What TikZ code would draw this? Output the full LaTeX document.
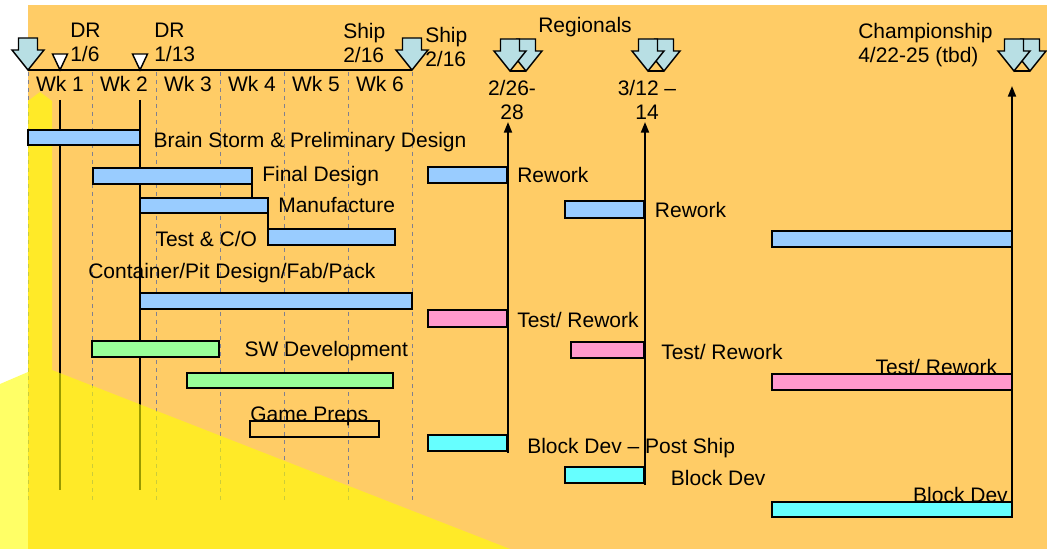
\documentclass[tikz,border=0pt]{standalone}
\usepackage{fontspec}
\setmainfont{Liberation Sans}
\usetikzlibrary{arrows.meta,positioning,fit}
\definecolor{gtOrange}{HTML}{FFCC66}
\definecolor{gtBlue}{HTML}{99CCFF}
\definecolor{gtPink}{HTML}{FF99CC}
\definecolor{gtGreen}{HTML}{99FF99}
\definecolor{gtCyan}{HTML}{66FFFF}
\definecolor{gtArrow}{HTML}{B8DFE4}
\definecolor{gtGrid}{HTML}{808090}
\definecolor{gtYellow}{HTML}{FFFF00}
\tikzset{
  lbl/.style={inner sep=0pt, font=\fontsize{15.75}{18}\selectfont},
  lblM/.style={lbl, align=left},
  lblC/.style={lbl, align=center},
  bar/.style={draw=black, line width=1.2pt, inner sep=0pt, outer sep=0pt},
  barB/.style={bar, fill=gtBlue},
  barP/.style={bar, fill=gtPink},
  barG/.style={bar, fill=gtGreen},
  barC/.style={bar, fill=gtCyan},
  barE/.style={bar},
  wkln/.style={draw=gtGrid, dash pattern=on 3pt off 3pt, line width=0.6pt},
  axln/.style={draw=black, line width=1.1pt},
  drln/.style={draw=black, line width=1.1pt},
  msarr/.style={-{Triangle[length=8pt,width=6pt]}, line width=1.5pt},
  shpA/.style={draw=black, fill=gtArrow, line width=1.1pt, line join=miter},
  drT/.style={draw=black, fill=white, line width=1.1pt},
  shipdn/.pic={\draw[shpA] (-9.5,-32) -- (9.5,-32) -- (9.5,-20) -- (16,-20) -- (0,0) -- (-16,-20) -- (-9.5,-20) -- cycle;},
  drtri/.pic={\draw[drT] (-7.5,-16) -- (7.5,-16) -- (0,0) -- cycle;},
  regdn/.pic={\pic at (16,0) {shipdn}; \pic at (0,0) {shipdn}; \draw[line width=1.1pt] (0,0) -- (16,0);},
}
\begin{document}
\begin{tikzpicture}[x=0.75pt, y=-0.75pt]
  \useasboundingbox (0,0) rectangle (1047,549);
  \fill[gtOrange] (28,5) rectangle (1047,549);
  % week grid and time line
  \foreach \i in {0,...,6} \draw[wkln] ({28+64*\i},72) -- ({28+64*\i},502);
  \coordinate (t0) at (28,70); \coordinate (t6) at (412,70);
  \draw[axln] (t0) -- (t6);
  \foreach \i in {1,...,6} \node[lbl] (wk\i) at ({64*\i-4},84) {Wk \i};
  % design reviews
  \coordinate (dr1t) at (60,100); \coordinate (dr1b) at (60,490);
  \coordinate (dr2t) at (140,100); \coordinate (dr2b) at (140,490);
  \draw[drln] (dr1t) -- (dr1b); \draw[drln] (dr2t) -- (dr2b);
  \fill[gtYellow, opacity=0.6] (0,549) -- (0,384) -- (28,372) -- (28,101) -- (40,92) -- (52,101) -- (52,370) -- (510,549) -- cycle;
  % build season
  \node[barB, fit={(28,130) (140,145)}] (bs) {};
  \node[barB, fit={(93,168) (252,184)}] (fd) {};
  \node[barB, fit={(140,198) (268,213)}] (mf) {};
  \node[barB, fit={(268,229) (395,245)}] (tc) {};
  \node[barB, fit={(140,293) (412,309)}] (cp) {};
  \node[barG, fit={(92,341) (219,357)}] (sw1) {};
  \node[barG, fit={(187,373) (393,388)}] (sw2) {};
  \node[barE, fit={(250,421) (379,437)}] (gp) {};
  \draw[drln] (fd.north east) -- (fd.east |- mf.north);
  \draw[drln] (mf.south east) -- (tc.south west);
  % between events
  \node[barB, fit={(428,167) (507,183)}] (rw1) {};
  \node[barB, fit={(565,201) (644,218)}] (rw2) {};
  \node[barB, fit={(772,231) (1012,247)}] (rw3) {};
  \node[barP, fit={(428,310) (507,327)}] (tr1) {};
  \node[barP, fit={(571,342) (644,358)}] (tr2) {};
  \node[barP, fit={(772,374) (1012,390)}] (tr3) {};
  \node[barC, fit={(428,435) (507,451)}] (bd1) {};
  \node[barC, fit={(565,467) (644,483)}] (bd2) {};
  \node[barC, fit={(772,502) (1012,517)}] (bd3) {};
  % event markers
  \coordinate (r1b) at (508,453); \coordinate (r1a) at (508,122);
  \coordinate (r2b) at (645,485); \coordinate (r2a) at (645,122);
  \coordinate (chb) at (1012,517); \coordinate (cha) at (1012,86);
  \draw[msarr] (r1b) -- (r1a); \draw[msarr] (r2b) -- (r2a); \draw[msarr] (chb) -- (cha);
  \pic at (28,70) {shipdn}; \pic at (412,70) {shipdn};
  \pic at (60,70) {drtri}; \pic at (140,70) {drtri};
  \pic at (510,71) {regdn}; \pic at (648,71) {regdn}; \pic at (1014,71) {regdn};
  % labels
  \node[lblM, anchor=north west] (dr1L) at (70,23) {DR\\1/6};
  \node[lblM, anchor=north west] (dr2L) at (154,23) {DR\\1/13};
  \node[lblM, anchor=north west] (sh1L) at (343,23) {Ship\\2/16};
  \node[lblM, anchor=north west] (sh2L) at (425,27) {Ship\\2/16};
  \node[lbl, anchor=north] (regL) at (585,17) {Regionals};
  \node[lblC, anchor=north] (rg1L) at (512,80) {2/26-\\28};
  \node[lblC, anchor=north] (rg2L) at (647,80) {3/12 --\\14};
  \node[lblM, anchor=north west] (chL) at (858,23) {Championship\\4/22-25 (tbd)};
  \node[lbl, right=10pt of bs, yshift=-3.5pt] (bsL) {Brain Storm \& Preliminary Design};
  \node[lbl, right=7.5pt of fd] (fdL) {Final Design};
  \node[lbl, right=7.5pt of mf] (mfL) {Manufacture};
  \node[lbl, left=8pt of tc, yshift=-1.5pt] (tcL) {Test \& C/O};
  \node[lbl, anchor=base west] (cpL) at (88,279) {Container/Pit Design/Fab/Pack};
  \node[lbl, right=19pt of sw1, yshift=-1.5pt] (swL) {SW Development};
  \node[lbl, anchor=base west] (gpL) at (gp.north west) {Game Preps};
  \node[lbl, right=7.5pt of rw1] (rw1L) {Rework};
  \node[lbl, right=8pt of rw2] (rw2L) {Rework};
  \node[lbl, right=7.5pt of tr1, yshift=-1pt] (tr1L) {Test/ Rework};
  \node[lbl, right=12.75pt of tr2, yshift=-1.5pt] (tr2L) {Test/ Rework};
  \node[lbl, anchor=base east] (tr3L) at ([xshift=-11pt]tr3.north east) {Test/ Rework};
  \node[lbl, right=15pt of bd1, yshift=-3.5pt] (bd1L) {Block Dev -- Post Ship};
  \node[lbl, right=20pt of bd2, yshift=-2pt] (bd2L) {Block Dev};
  \node[lbl, anchor=base east] (bd3L) at ([xshift=-3pt]bd3.north east) {Block Dev};
\end{tikzpicture}
\end{document}
